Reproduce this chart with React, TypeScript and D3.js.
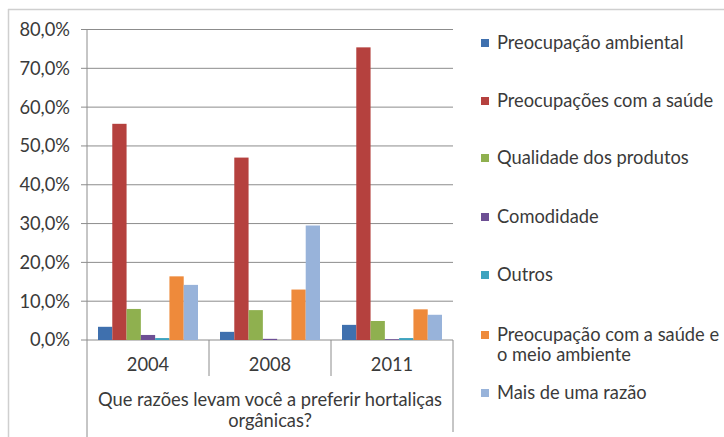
import React from "react";
import * as d3 from "d3";

const years = ["2004", "2008", "2011"];
const seriesNames = [
  "Preocupação ambiental",
  "Preocupações com a saúde",
  "Qualidade dos produtos",
  "Comodidade",
  "Outros",
  "Preocupação com a saúde e o meio ambiente",
  "Mais de uma razão",
];
const legendLines = [
  ["Preocupação ambiental"],
  ["Preocupações com a saúde"],
  ["Qualidade dos produtos"],
  ["Comodidade"],
  ["Outros"],
  ["Preocupação com a saúde e", "o meio ambiente"],
  ["Mais de uma razão"],
];
const seriesColors = ["#3f70ae", "#b5413e", "#8fb04f", "#6d4f94", "#3ea3bf", "#ee8a3b", "#98b3da"];
// values[series][year]
const ambiental = [3.4, 2.1, 3.9];
const saude = [55.7, 47.0, 75.4];
const qualidade = [8.0, 7.7, 4.9];
const comodidade = [1.3, 0.3, 0.2];
const outros = [0.5, 0.0, 0.5];
const saudeAmbiente = [16.4, 13.0, 7.9];
const maisDeUma = [14.2, 29.5, 6.5];
const seriesValues = [ambiental, saude, qualidade, comodidade, outros, saudeAmbiente, maisDeUma];
const yTicks = [0, 10, 20, 30, 40, 50, 60, 70, 80];
const axisTitle = ["Que razões levam você a preferir hortaliças", "orgânicas?"];

const W = 724;
const H = 437;
const left = 87;
const right = 453;
const top = 29.5;
const bottom = 340;
const font = "Lato, 'Open Sans', sans-serif";
const textColor = "#3a3a3a";
const fs = 18.3;

export default function App() {
  const x0 = d3.scaleBand<string>().domain(years).range([left, right]).paddingInner(0).paddingOuter(0);
  const x1 = d3
    .scaleBand<number>()
    .domain(d3.range(seriesNames.length))
    .range([0, x0.bandwidth()])
    .paddingOuter(0.77)
    .paddingInner(0);
  const y = d3.scaleLinear().domain([0, 80]).range([bottom, top]);
  const fmt = (v: number) => d3.format(".1f")(v).replace(".", ",") + "%";

  const legendY = [43, 101, 158, 217, 275, 335, 393];

  return (
    <svg
      width={W}
      height={H}
      style={{ position: "absolute", left: 0, top: 0, background: "#fff" }}
      fontFamily={font}
    >
      <rect x={0} y={0} width={W} height={H} fill="#fff" />
      {/* outer frame */}
      <line x1={8} x2={W} y1={9.5} y2={9.5} stroke="#cfcfcf" strokeWidth={1.5} />
      <line x1={8.5} x2={8.5} y1={9} y2={H} stroke="#cfcfcf" strokeWidth={1.5} />
      {/* gridlines */}
      {yTicks.map((t) => (
        <line key={t} x1={left - 6} x2={right} y1={y(t)} y2={y(t)} stroke="#8c8c8c" strokeWidth={1} />
      ))}
      {/* y tick labels */}
      {yTicks.map((t) => (
        <text key={"l" + t} x={70} y={y(t)} dy="0.35em" textAnchor="end" fontSize={fs} fill={textColor}>
          {fmt(t)}
        </text>
      ))}
      {/* bars */}
      {years.map((yr, j) => (
        <g key={yr} transform={`translate(${x0(yr)},0)`}>
          {seriesValues.map((vals, i) => (
            <rect
              key={i}
              x={x1(i)}
              width={x1.bandwidth()}
              y={y(vals[j])}
              height={bottom - y(vals[j])}
              fill={seriesColors[i]}
            />
          ))}
        </g>
      ))}
      {/* axis lines */}
      <line x1={left} x2={left} y1={top} y2={H} stroke="#8c8c8c" />
      <line x1={right} x2={right} y1={bottom} y2={432} stroke="#8c8c8c" />
      {years.slice(1).map((yr) => (
        <line key={"s" + yr} x1={x0(yr)} x2={x0(yr)} y1={bottom} y2={376} stroke="#8c8c8c" />
      ))}
      {/* category labels */}
      {years.map((yr) => (
        <text
          key={"c" + yr}
          x={(x0(yr) as number) + x0.bandwidth() / 2}
          y={365}
          dy="0.35em"
          textAnchor="middle"
          fontSize={fs}
          fill={textColor}
        >
          {yr}
        </text>
      ))}
      {axisTitle.map((s, k) => (
        <text
          key={"t" + k}
          x={(left + right) / 2}
          y={400 + k * 21}
          dy="0.35em"
          textAnchor="middle"
          fontSize={fs}
          fill={textColor}
        >
          {s}
        </text>
      ))}
      {/* legend */}
      {legendLines.map((lines, i) => (
        <g key={"lg" + i}>
          <rect x={481} y={legendY[i] - 4} width={8} height={8} fill={seriesColors[i]} />
          {lines.map((ln, k) => (
            <text key={k} x={497} y={legendY[i] + k * 20} dy="0.35em" fontSize={fs} fill={textColor}>
              {ln}
            </text>
          ))}
        </g>
      ))}
    </svg>
  );
}
